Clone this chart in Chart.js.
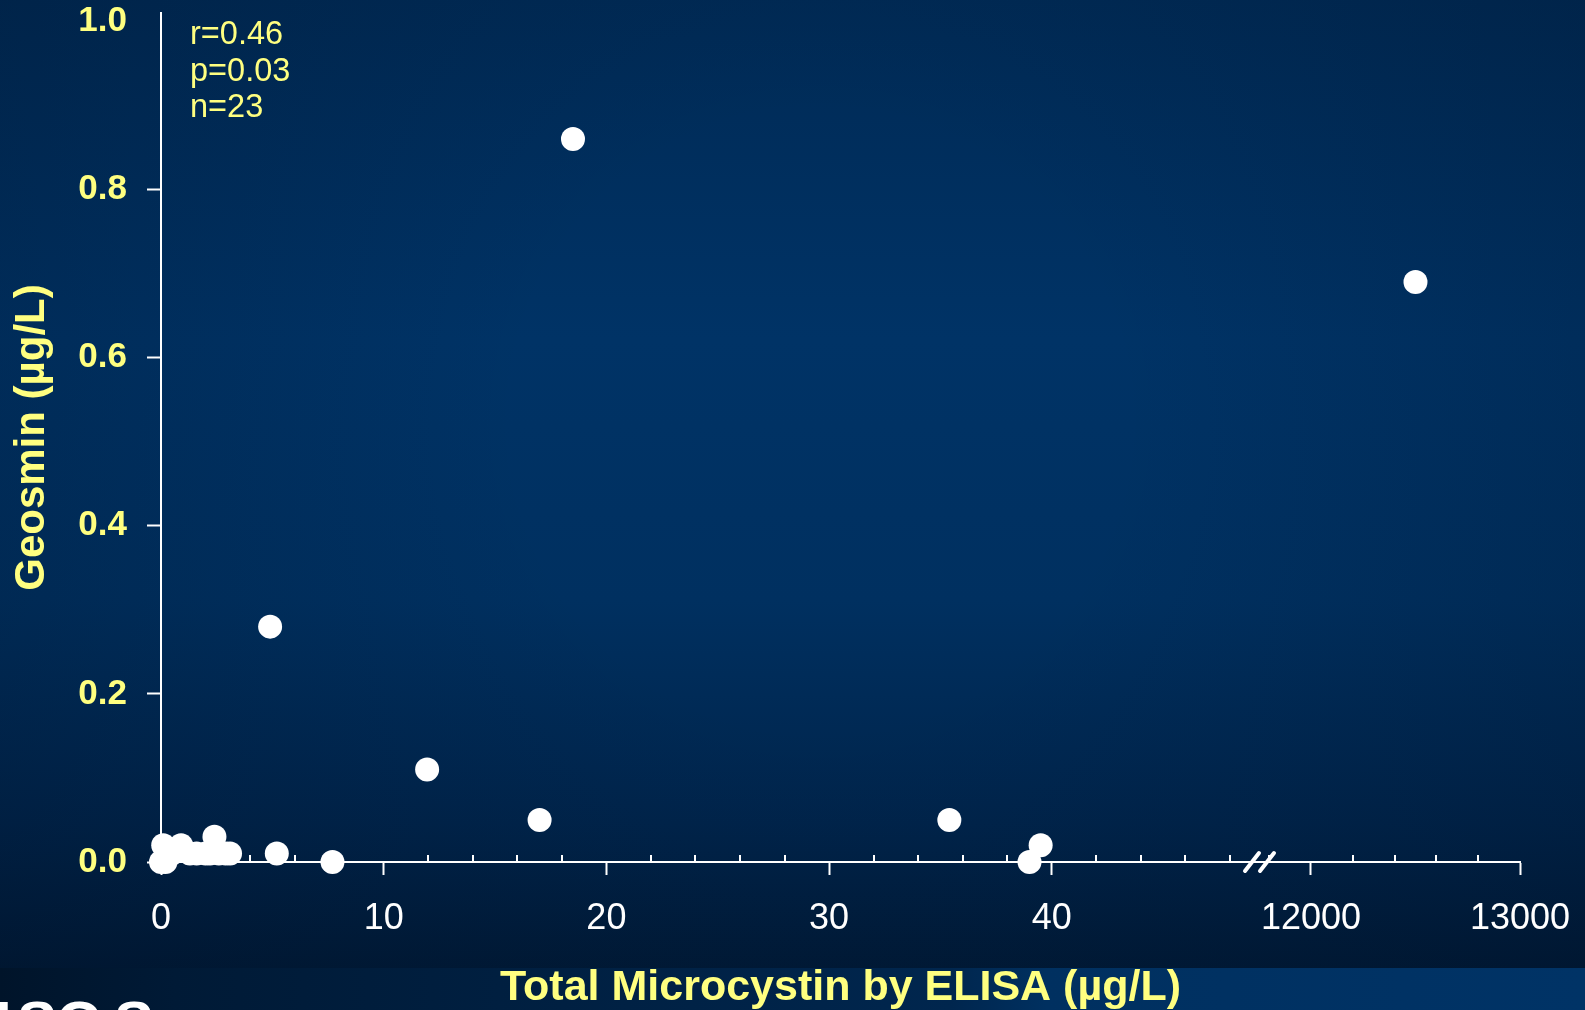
<!DOCTYPE html>
<html>
<head>
<meta charset="utf-8">
<title>Geosmin vs Total Microcystin</title>
<script src="https://cdn.jsdelivr.net/npm/chart.js@4.4.1/dist/chart.umd.min.js"></script>
<style>
  html, body { margin: 0; padding: 0; background: #001a36; overflow: hidden; }
  #wrap { width: 1585px; height: 1010px; position: relative; }
</style>
</head>
<body>
<div id="wrap"><canvas id="chart" width="1585" height="1010"></canvas></div>
<script>
// Total microcystin (µg/L) and geosmin (µg/L), lower segment of the broken axis
const microcystinLow = [0, 0.2, 0.1, 0.5, 0.9, 1.3, 1.6, 2.0, 2.2, 2.4, 2.6, 2.9, 3.1,
                        4.9, 5.2, 7.7, 11.95, 17.0, 18.5, 35.4, 39.0, 39.5];
const geosminLow     = [0, 0, 0.02, 0.01, 0.02, 0.01, 0.01, 0.01, 0.01, 0.03, 0.01, 0.01, 0.01,
                        0.28, 0.01, 0, 0.11, 0.05, 0.86, 0.05, 0, 0.02];
// Upper segment of the broken axis
const microcystinHigh = [12500];
const geosminHigh     = [0.69];

// Axis ranges and tick labels
const lowRange  = [0, 49.35];
const highRange = [11756, 13000];
const lowTickLabels  = [0, 10, 20, 30, 40];
const highTickLabels = [12000, 13000];
const lowMinorStep = 2;
const highMinorStep = 200;
const yTickLabels = [0.0, 0.2, 0.4, 0.6, 0.8, 1.0];
const yMax = 1.01;

const statsLines = ['r=0.46', 'p=0.03', 'n=23'];
const xTitle = 'Total Microcystin by ELISA (\u00b5g/L)';
const yTitle = 'Geosmin (\u00b5g/L)';

const YELLOW = '#ffff80';
const WHITE = '#ffffff';
const FONT = '"Liberation Sans", Arial, Helvetica, sans-serif';

function toPoints(xs, ys) { return xs.map((x, i) => ({ x, y: ys[i] })); }

function minorTicks(lo, hi, step) {
  const out = [];
  const start = Math.ceil(lo / step) * step;
  for (let v = start; v <= hi + 1e-9; v += step) out.push({ value: Math.round(v * 1000) / 1000 });
  return out;
}

// Slide background, chart panel gradient and the partial logo at the bottom edge
const backdrop = {
  id: 'backdrop',
  beforeDraw(chart) {
    const { ctx, width, height } = chart;
    ctx.save();
    const band = ctx.createLinearGradient(0, 0, width, 0);
    band.addColorStop(0, '#00142a');
    band.addColorStop(0.11, '#001a36');
    band.addColorStop(0.6, '#00264e');
    band.addColorStop(0.66, '#003060');
    band.addColorStop(1, '#003366');
    ctx.fillStyle = band;
    ctx.fillRect(0, 0, width, height);

    const panelH = 968;
    const v = ctx.createLinearGradient(0, 0, 0, panelH);
    v.addColorStop(0, '#002a55');
    v.addColorStop(0.35, '#003366');
    v.addColorStop(0.62, '#003060');
    v.addColorStop(0.85, '#00244b');
    v.addColorStop(1, '#001a37');
    ctx.fillStyle = v;
    ctx.fillRect(0, 0, width, panelH);

    const r = ctx.createRadialGradient(820, 420, 300, 820, 420, 1050);
    r.addColorStop(0, 'rgba(0,12,30,0)');
    r.addColorStop(1, 'rgba(0,12,30,0.25)');
    ctx.fillStyle = r;
    ctx.fillRect(0, 0, width, panelH);

    ctx.fillStyle = WHITE;
    ctx.font = 'bold 60px ' + FONT;
    ctx.textBaseline = 'alphabetic';
    ctx.textAlign = 'left';
    [['U', -32], ['S', 17], ['G', 56], ['S', 114]].forEach(([ch, x]) => ctx.fillText(ch, x, 1043));
    ctx.restore();
  }
};

// Titles, statistics, short inward minor ticks and axis-break marks
const decorations = {
  id: 'decorations',
  afterDraw(chart) {
    const { ctx, chartArea } = chart;
    const xs = chart.scales.x, xh = chart.scales.x2;
    ctx.save();

    // minor ticks pointing up into the plot
    ctx.strokeStyle = WHITE;
    ctx.lineWidth = 2;
    [[xs, lowTickLabels], [xh, highTickLabels]].forEach(([s, majors]) => {
      s.ticks.forEach(t => {
        if (majors.includes(t.value)) return;
        const px = Math.round(s.getPixelForValue(t.value));
        ctx.beginPath();
        ctx.moveTo(px, chartArea.bottom);
        ctx.lineTo(px, chartArea.bottom - 7);
        ctx.stroke();
      });
    });

    // break marks where the two x segments meet
    const bx = xs.right;
    const by = chartArea.bottom;
    ctx.lineWidth = 4;
    ctx.lineCap = 'round';
    [-8, 7].forEach(dx => {
      ctx.beginPath();
      ctx.moveTo(bx + dx - 7, by + 9);
      ctx.lineTo(bx + dx + 7, by - 9);
      ctx.stroke();
    });

    // statistics
    ctx.fillStyle = YELLOW;
    ctx.font = '32.5px ' + FONT;
    ctx.textAlign = 'left';
    ctx.textBaseline = 'alphabetic';
    statsLines.forEach((s, i) => ctx.fillText(s, chartArea.left + 29, chartArea.top + 31 + i * 36.5));

    // axis titles
    ctx.font = 'bold 43px ' + FONT;
    ctx.textAlign = 'center';
    ctx.fillText(xTitle, (chartArea.left + chartArea.right) / 2, 1000);

    ctx.save();
    ctx.translate(44, (chartArea.top + chartArea.bottom) / 2);
    ctx.rotate(-Math.PI / 2);
    ctx.font = 'bold 42px ' + FONT;
    ctx.fillText(yTitle, 0, 0);
    ctx.restore();

    ctx.restore();
  }
};

function xAxis(range, step, majors, weight) {
  return {
    type: 'linear',
    position: 'bottom',
    stack: 'broken-x',
    stackWeight: weight,
    min: range[0],
    max: range[1],
    afterBuildTicks: s => { s.ticks = minorTicks(range[0], range[1], step); },
    afterFit: s => { s.height = 148; s.paddingLeft = 0; s.paddingRight = 0; },
    ticks: {
      autoSkip: false,
      maxRotation: 0,
      minRotation: 0,
      padding: 22,
      color: WHITE,
      font: { family: FONT, size: 36 },
      callback: v => (majors.includes(v) ? String(v) : '')
    },
    grid: {
      drawOnChartArea: false,
      drawTicks: true,
      tickLength: 13,
      tickWidth: 2,
      tickColor: c => (c.tick && majors.includes(c.tick.value) ? WHITE : 'rgba(0,0,0,0)')
    },
    border: { display: true, color: WHITE, width: 2 }
  };
}

const pointStyle = {
  pointRadius: 12,
  pointHoverRadius: 12,
  pointBackgroundColor: WHITE,
  pointBorderWidth: 0,
  showLine: false,
  clip: false
};

new Chart(document.getElementById('chart'), {
  type: 'scatter',
  data: {
    datasets: [
      Object.assign({ label: 'low', xAxisID: 'x', yAxisID: 'y', data: toPoints(microcystinLow, geosminLow) }, pointStyle),
      Object.assign({ label: 'high', xAxisID: 'x2', yAxisID: 'y', data: toPoints(microcystinHigh, geosminHigh) }, pointStyle)
    ]
  },
  options: {
    responsive: false,
    animation: false,
    events: [],
    layout: { padding: { left: 0, top: 13, right: 65, bottom: 0 } },
    plugins: { legend: { display: false }, tooltip: { enabled: false }, title: { display: false } },
    scales: {
      x: xAxis(lowRange, lowMinorStep, lowTickLabels, 1099),
      x2: xAxis(highRange, highMinorStep, highTickLabels, 260),
      y: {
        type: 'linear',
        position: 'left',
        min: 0,
        max: yMax,
        afterBuildTicks: s => { s.ticks = yTickLabels.map(v => ({ value: v })); },
        afterFit: s => { s.width = 161; s.paddingTop = 0; s.paddingBottom = 0; },
        ticks: {
          padding: 20,
          color: YELLOW,
          font: { family: FONT, size: 35, weight: 'bold' },
          callback: v => Number(v).toFixed(1)
        },
        grid: {
          drawOnChartArea: false,
          drawTicks: true,
          tickLength: 14,
          tickWidth: 2,
          tickColor: c => (c.tick && c.tick.value >= 1 ? 'rgba(0,0,0,0)' : WHITE)
        },
        border: { display: true, color: WHITE, width: 2 }
      }
    }
  },
  plugins: [backdrop, decorations]
});
</script>
</body>
</html>
